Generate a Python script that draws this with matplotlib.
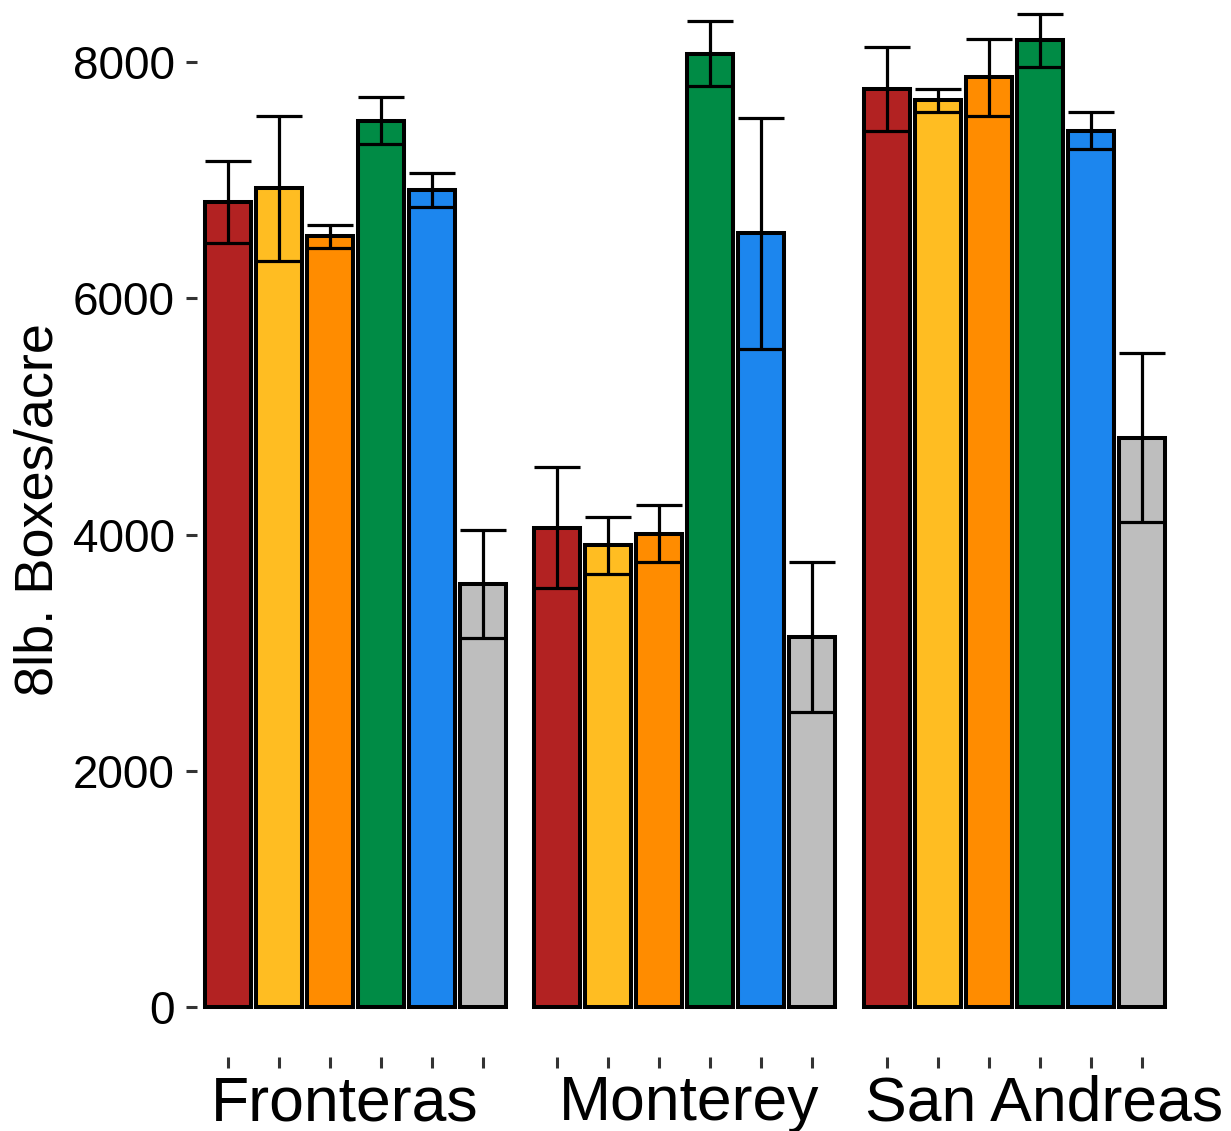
import numpy as np
import matplotlib
matplotlib.use('Agg')
import matplotlib.pyplot as plt

plt.rcParams['font.family'] = ['Liberation Sans', 'DejaVu Sans']

# 数据
sites = ['Fronteras', 'Monterey', 'San Andreas']
colors = ['#B22222', '#FFBD22', '#FF8C00', '#008B45', '#1C86EE', '#BEBEBE']

fronteras_mean = [6815, 6930, 6525, 7505, 6915, 3580]
fronteras_se = [345, 610, 97, 195, 145, 458]
monterey_mean = [4060, 3910, 4010, 8070, 6550, 3135]
monterey_se = [512, 242, 245, 275, 980, 635]
sanandreas_mean = [7770, 7675, 7870, 8185, 7420, 4820]
sanandreas_se = [355, 97, 326, 225, 157, 715]

means = [fronteras_mean, monterey_mean, sanandreas_mean]
ses = [fronteras_se, monterey_se, sanandreas_se]

# 标签中心位置（横轴单位）
label_x = [2.29, 9.04, 16.0]

group_gap = 6.46
bar_w = 0.9

fig = plt.figure(figsize=(12.31, 11.31), dpi=100)
ax = fig.add_axes([0.160, 0.0654, 0.7925, 0.9346])

ticks = []
for g in range(len(sites)):
    x = g * group_gap + np.arange(6)
    ticks.extend(x)
    ax.bar(x, means[g], width=bar_w, color=colors, edgecolor='black',
           linewidth=2.9, zorder=2)
    ax.errorbar(x, means[g], yerr=ses[g], fmt='none', ecolor='black',
                elinewidth=2.3, capsize=16.5, capthick=2.3, zorder=3)
    ax.text(label_x[g], -0.0596, sites[g], transform=ax.get_xaxis_transform(),
            ha='center', va='baseline', fontsize=45)

ax.set_xlim(-0.6, 2 * group_gap + 5 + 0.6)
ax.set_ylim(-420, 8525)
ax.set_xticks(ticks)
ax.set_xticklabels([])
ax.set_yticks([0, 2000, 4000, 6000, 8000])
ax.tick_params(axis='both', direction='out', length=8, width=2.2, color='#333333')
ax.tick_params(axis='y', labelsize=33, pad=8)
for s in ax.spines.values():
    s.set_visible(False)

ax.set_ylabel('8lb. Boxes/acre', fontsize=39)
ax.yaxis.set_label_coords(-0.137, 0.518)

fig.savefig('out.png', dpi=100)
